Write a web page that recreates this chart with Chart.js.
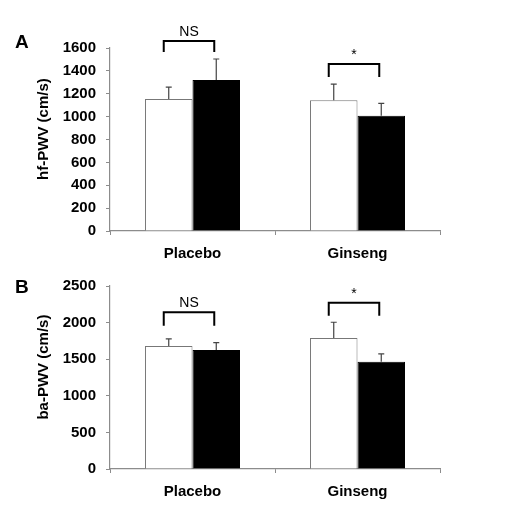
<!DOCTYPE html>
<html>
<head>
<meta charset="utf-8">
<script src="https://cdn.jsdelivr.net/npm/chart.js@4.4.1/dist/chart.umd.min.js"></script>
<style>
  body { margin: 0; background: #fff; }
  #wrap { position: relative; width: 505px; height: 512px; }
  canvas { position: absolute; left: 0; }
  .panel { position: absolute; left: 15px; font: bold 19px "Liberation Sans", Arial, sans-serif; }
</style>
</head>
<body>
<div id="wrap">
  <canvas id="chartA" width="505" height="262" style="top:0"></canvas>
  <canvas id="chartB" width="505" height="250" style="top:262px"></canvas>
  <div class="panel" style="top:31px">A</div>
  <div class="panel" style="top:276px">B</div>
</div>
<script>
const groups = ['Placebo', 'Ginseng']

// panel A: hf-PWV
const hfBefore = [1155, 1143]
const hfAfter = [1320, 1008]
const hfBeforeErr = [103, 142]
const hfAfterErr = [184, 108]
const hfMax = 1600
const hfStep = 200
const hfSig = ['NS', '*']
const hfBracketTop = [1661, 1460]
const hfBracketLeg = [1565, 1346]

// panel B: ba-PWV
const baBefore = [1682, 1791]
const baAfter = [1627, 1464]
const baBeforeErr = [95, 214]
const baAfterErr = [100, 109]
const baMax = 2500
const baStep = 500
const baSig = ['NS', '*']
const baBracketTop = [2141, 2272]
const baBracketLeg = [1958, 2095]

const FONT = '"Liberation Sans", Arial, sans-serif'
const AXIS = '#8c8c8c'
// leading spaces nudge the rotated axis title upward like the original
const SHIFT = '\u00a0\u00a0\u00a0\u00a0\u00a0'

// error bars (upward only) and significance brackets
const extrasPlugin = {
  id: 'extras',
  afterDatasetsDraw(chart, args, opts) {
    const ctx = chart.ctx
    const y = chart.scales.y
    ctx.save()
    ctx.strokeStyle = '#444'
    ctx.lineWidth = 1.2
    chart.data.datasets.forEach((ds, i) => {
      const meta = chart.getDatasetMeta(i)
      meta.data.forEach((bar, j) => {
        const top = y.getPixelForValue(ds.data[j] + ds.err[j])
        ctx.beginPath()
        ctx.moveTo(bar.x, bar.y)
        ctx.lineTo(bar.x, top)
        ctx.moveTo(bar.x - 3, top)
        ctx.lineTo(bar.x + 3, top)
        ctx.stroke()
      })
    })
    ctx.strokeStyle = '#000'
    ctx.lineWidth = 2
    ctx.fillStyle = '#000'
    ctx.font = '14px ' + FONT
    ctx.textAlign = 'center'
    ctx.textBaseline = 'bottom'
    const m0 = chart.getDatasetMeta(0)
    const m1 = chart.getDatasetMeta(1)
    opts.sig.forEach((label, j) => {
      const x0 = m0.data[j].x - 5
      const x1 = m1.data[j].x - 2
      const yt = y.getPixelForValue(opts.top[j])
      const yl = y.getPixelForValue(opts.leg[j])
      ctx.beginPath()
      ctx.moveTo(x0, yl)
      ctx.lineTo(x0, yt)
      ctx.lineTo(x1, yt)
      ctx.lineTo(x1, yl)
      ctx.stroke()
      ctx.fillText(label, (x0 + x1) / 2, yt - 2)
    })
    ctx.restore()
  },
}

function makeChart(id, before, after, beforeErr, afterErr, max, step, title, sig, top, leg, topPad, axisH) {
  return new Chart(document.getElementById(id), {
    type: 'bar',
    data: {
      labels: groups,
      datasets: [
        {
          data: before,
          err: beforeErr,
          backgroundColor: '#fff',
          borderColor: '#777',
          borderWidth: 1,
          borderSkipped: 'bottom',
        },
        {
          data: after,
          err: afterErr,
          backgroundColor: '#000',
          borderColor: '#000',
          borderWidth: 1,
          borderSkipped: 'bottom',
        },
      ],
    },
    options: {
      responsive: false,
      animation: false,
      events: [],
      layout: { padding: { left: 0, right: 65, top: topPad, bottom: 0 } },
      datasets: { bar: { categoryPercentage: 0.576, barPercentage: 1.0 } },
      plugins: {
        legend: { display: false },
        tooltip: { enabled: false },
        extras: { sig: sig, top: top, leg: leg },
      },
      scales: {
        x: {
          afterFit: (s) => { s.height = axisH },
          border: { color: AXIS, width: 1.2 },
          grid: { offset: true, drawOnChartArea: false, tickLength: 4, color: AXIS },
          ticks: { color: '#000', padding: 10, font: { family: FONT, size: 15, weight: 'bold' } },
        },
        y: {
          min: 0,
          max: max,
          afterFit: (s) => { s.width = 110 },
          border: { color: AXIS, width: 1.2 },
          grid: { drawOnChartArea: false, tickLength: 4, color: AXIS },
          ticks: {
            stepSize: step,
            color: '#000',
            padding: 10,
            font: { family: FONT, size: 15, weight: 'bold' },
            callback: (v) => String(v),
          },
          title: {
            display: true,
            text: SHIFT + title,
            color: '#000',
            padding: { top: 35, bottom: 0 },
            font: { family: FONT, size: 15, weight: 'bold' },
          },
        },
      },
    },
    plugins: [extrasPlugin],
  })
}

makeChart('chartA', hfBefore, hfAfter, hfBeforeErr, hfAfterErr, hfMax, hfStep,
  'hf-PWV (cm/s)', hfSig, hfBracketTop, hfBracketLeg, 48, 31)
makeChart('chartB', baBefore, baAfter, baBeforeErr, baAfterErr, baMax, baStep,
  'ba-PWV (cm/s)', baSig, baBracketTop, baBracketLeg, 24, 43)
</script>
</body>
</html>
